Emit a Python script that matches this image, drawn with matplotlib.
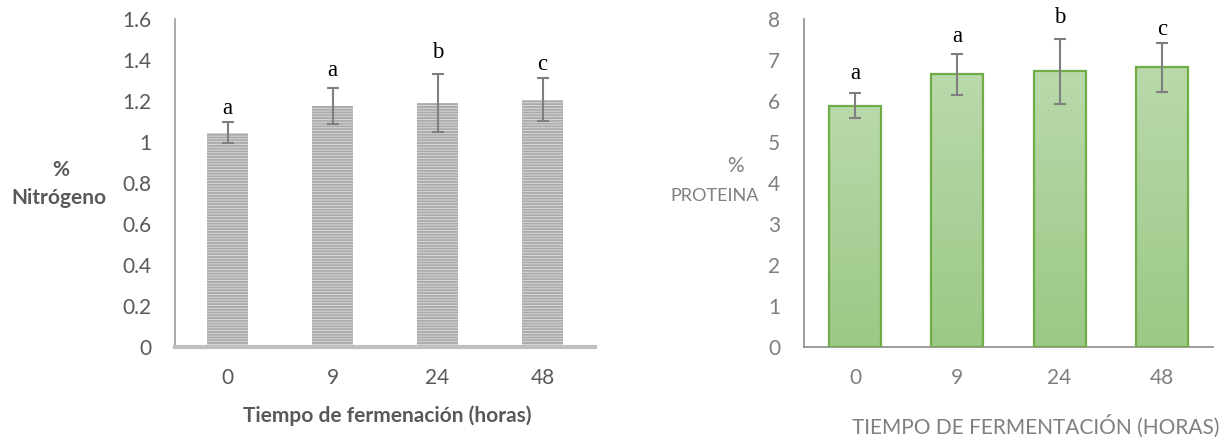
import numpy as np
import matplotlib
matplotlib.use("Agg")
import matplotlib.pyplot as plt

# datos
horas = ["0", "9", "24", "48"]

nitrogeno = [1.046, 1.177, 1.19, 1.206]
nitrogeno_err = [0.05, 0.088, 0.143, 0.105]
nitrogeno_letras = ["a", "a", "b", "c"]
nitrogeno_letra_y = [1.137, 1.323, 1.409, 1.352]

proteina = [5.89, 6.65, 6.72, 6.82]
proteina_err = [0.30, 0.50, 0.80, 0.60]
proteina_letras = ["a", "a", "b", "c"]
proteina_letra_y = [6.545, 7.44, 7.90, 7.60]

plt.rcParams["font.family"] = ["Lato", "DejaVu Sans"]
plt.rcParams["hatch.linewidth"] = 1.4

W, H = 1228, 442
FS = 15
fig = plt.figure(figsize=(W / 100, H / 100), dpi=100)


def box(x0, x1, ytop, ybot):
    return [x0 / W, 1 - ybot / H, (x1 - x0) / W, (ybot - ytop) / H]


x = np.arange(len(horas))

# ---- panel izquierdo: % nitrógeno
ax1 = fig.add_axes(box(175, 595, 19, 347))
ax1.bar(x, nitrogeno, width=0.39, color="#dedede", edgecolor="#ababab",
        linewidth=0, hatch="------", zorder=2)
ax1.errorbar(x, nitrogeno, yerr=nitrogeno_err, fmt="none", ecolor="#7f7f7f",
             elinewidth=1.5, capsize=4.5, capthick=1.5, zorder=3)
for xi, t, yv in zip(x, nitrogeno_letras, nitrogeno_letra_y):
    ax1.text(xi, yv, t, ha="center", va="baseline", fontsize=16.5,
             family="Liberation Serif", clip_on=False)
ax1.set_xlim(-0.5, 3.5)
ax1.set_ylim(0, 1.6)
ax1.set_yticks(np.arange(0, 1.61, 0.2))
ax1.set_yticklabels(["0", "0.2", "0.4", "0.6", "0.8", "1", "1.2", "1.4", "1.6"])
ax1.set_xticks(x)
ax1.set_xticklabels(horas)
ax1.tick_params(length=0, labelsize=FS, labelcolor="#595959")
ax1.tick_params(axis="y", pad=17)
ax1.tick_params(axis="x", pad=15)
for s in ["top", "right"]:
    ax1.spines[s].set_visible(False)
ax1.spines["left"].set_color("#999999")
ax1.spines["left"].set_linewidth(1.2)
ax1.spines["bottom"].set_color("#bfbfbf")
ax1.spines["bottom"].set_linewidth(3)

fig.text(61 / W, 1 - 170 / H, "%", ha="center", va="center", fontsize=FS,
         fontweight="bold", color="#595959")
fig.text(59 / W, 1 - 198 / H, "Nitrógeno", ha="center", va="center",
         fontsize=FS, fontweight="bold", color="#595959")
fig.text(387 / W, 1 - 416 / H, "Tiempo de fermenación (horas)", ha="center",
         va="center", fontsize=FS, fontweight="bold", color="#595959")

# ---- panel derecho: % proteína
ax2 = fig.add_axes(box(804, 1213, 19, 347))
bars = ax2.bar(x, proteina, width=0.51, color="none", edgecolor="#70ad47",
               linewidth=1.6, zorder=3)
grad = np.linspace(0, 1, 100).reshape(-1, 1)
cmap = matplotlib.colors.LinearSegmentedColormap.from_list(
    "verde", ["#9cc986", "#b9d9ab"])
for b in bars:
    im = ax2.imshow(grad, cmap=cmap, origin="lower", aspect="auto",
                    extent=[b.get_x(), b.get_x() + b.get_width(), 0, b.get_height()],
                    zorder=2)
    im.set_clip_path(b)
ax2.errorbar(x, proteina, yerr=proteina_err, fmt="none", ecolor="#7f7f7f",
             elinewidth=1.5, capsize=4.5, capthick=1.5, zorder=4)
for xi, t, yv in zip(x, proteina_letras, proteina_letra_y):
    ax2.text(xi, yv, t, ha="center", va="baseline", fontsize=16.5,
             family="Liberation Serif", clip_on=False)
ax2.set_xlim(-0.5, 3.5)
ax2.set_ylim(0, 8)
ax2.set_yticks(range(0, 9))
ax2.set_xticks(x)
ax2.set_xticklabels(horas)
ax2.tick_params(length=0, labelsize=FS, labelcolor="#7f7f7f")
ax2.tick_params(axis="y", pad=17)
ax2.tick_params(axis="x", pad=15)
for s in ["top", "right"]:
    ax2.spines[s].set_visible(False)
for s in ["left", "bottom"]:
    ax2.spines[s].set_color("#8c8c8c")
    ax2.spines[s].set_linewidth(1.2)

fig.text(735 / W, 1 - 166 / H, "%", ha="center", va="center", fontsize=FS,
         color="#7f7f7f")
fig.text(715 / W, 1 - 196 / H, "PROTEINA", ha="center", va="center",
         fontsize=13, color="#7f7f7f")
fig.text(1036 / W, 1 - 426 / H, "TIEMPO DE FERMENTACIÓN (HORAS)", ha="center",
         va="center", fontsize=FS, color="#7f7f7f")

fig.savefig("out.png", dpi=100)
